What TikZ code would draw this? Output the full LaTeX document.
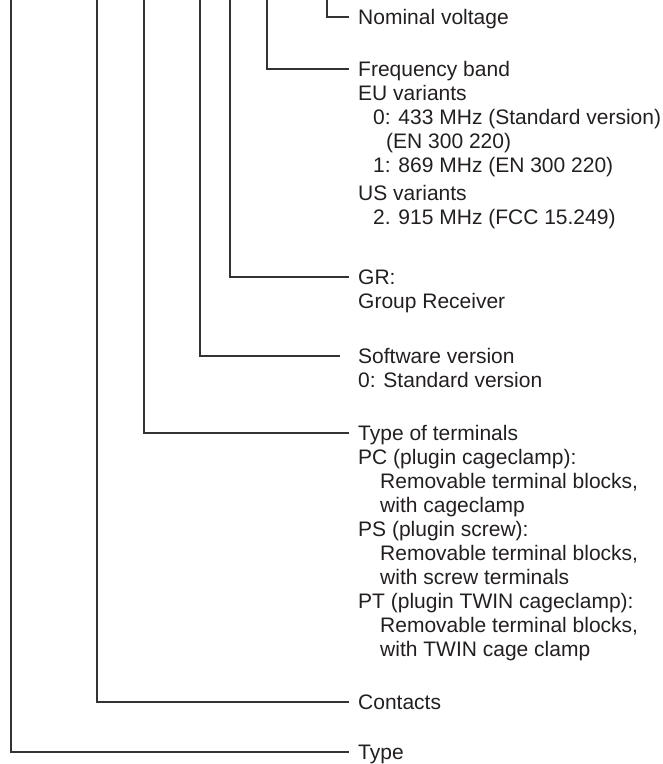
\documentclass[tikz,border=0pt]{standalone}
\usepackage{fontspec}
\setmainfont{Liberation Sans}
\definecolor{ink}{HTML}{231F20}
\definecolor{wirec}{HTML}{333333}
\begin{document}
\begin{tikzpicture}[x=1pt,y=-1pt,
  lbl/.style={anchor=north west, inner sep=0pt, align=left, text=ink,
              font=\fontsize{21}{24}\selectfont},
  wire/.style={draw=wirec, line width=1.3pt},
  endpt/.style={shift={(-9pt,-7.5pt)}}]
\useasboundingbox (0,0) rectangle (663,764);

% labels
\node[lbl] (nv) at (358,17-7.5) {Nominal voltage};
\node[lbl] (fb) at (358,69-7.5) {Frequency band\\
EU variants\\
\hspace*{15pt}0: 433 MHz (Standard version)\\
\hspace*{28pt}(EN 300 220)\\
\hspace*{15pt}1: 869 MHz (EN 300 220)\\[4pt]
US variants\\
\hspace*{15pt}2. 915 MHz (FCC 15.249)};
\node[lbl] (gr) at (358,277-7.5) {GR:\\Group Receiver};
\node[lbl] (sw) at (358,356-7.5) {Software version\\0: Standard version};
\node[lbl] (tt) at (358,433-7.5) {Type of terminals\\
PC (plugin cageclamp):\\
\hspace*{22pt}Removable terminal blocks,\\
\hspace*{22pt}with cageclamp\\
PS (plugin screw):\\
\hspace*{22pt}Removable terminal blocks,\\
\hspace*{22pt}with screw terminals\\
PT (plugin TWIN cageclamp):\\
\hspace*{22pt}Removable terminal blocks,\\
\hspace*{22pt}with TWIN cage clamp};
\node[lbl] (ct) at (358,702-7.5) {Contacts};
\node[lbl] (ty) at (358,752-7.5) {Type};

% top ends of the leader lines
\coordinate (tNV) at (327,-1);
\coordinate (tFB) at (267,-1);
\coordinate (tGR) at (230,-1);
\coordinate (tSW) at (200,-1);
\coordinate (tTT) at (144,-1);
\coordinate (tCT) at (97,-1);
\coordinate (tTY) at (11,-1);

% leader lines
\draw[wire] (tNV) |- ([endpt]nv.north west);
\draw[wire] (tFB) |- ([endpt]fb.north west);
\draw[wire] (tGR) |- ([endpt]gr.north west);
\draw[wire] (tSW) |- ([endpt,xshift=-9pt]sw.north west);
\draw[wire] (tTT) |- ([endpt]tt.north west);
\draw[wire] (tCT) |- ([endpt]ct.north west);
\draw[wire] (tTY) |- ([endpt]ty.north west);
\end{tikzpicture}
\end{document}
